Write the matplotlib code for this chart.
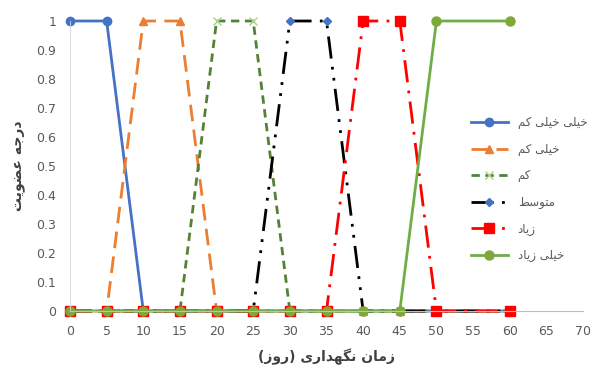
import matplotlib
matplotlib.use("Agg")
import matplotlib.pyplot as plt

# forms: isolated, final, initial, medial (None -> letter does not join to the next one)
FORMS = {
    "ا": ("\uFE8D", "\uFE8E", None, None),
    "ت": ("\uFE95", "\uFE96", "\uFE97", "\uFE98"),
    "ج": ("\uFE9D", "\uFE9E", "\uFE9F", "\uFEA0"),
    "خ": ("\uFEA5", "\uFEA6", "\uFEA7", "\uFEA8"),
    "د": ("\uFEA9", "\uFEAA", None, None),
    "ر": ("\uFEAD", "\uFEAE", None, None),
    "ز": ("\uFEAF", "\uFEB0", None, None),
    "س": ("\uFEB1", "\uFEB2", "\uFEB3", "\uFEB4"),
    "ض": ("\uFEBD", "\uFEBE", "\uFEBF", "\uFEC0"),
    "ط": ("\uFEC1", "\uFEC2", "\uFEC3", "\uFEC4"),
    "ع": ("\uFEC9", "\uFECA", "\uFECB", "\uFECC"),
    "ل": ("\uFEDD", "\uFEDE", "\uFEDF", "\uFEE0"),
    "م": ("\uFEE1", "\uFEE2", "\uFEE3", "\uFEE4"),
    "ن": ("\uFEE5", "\uFEE6", "\uFEE7", "\uFEE8"),
    "ه": ("\uFEE9", "\uFEEA", "\uFEEB", "\uFEEC"),
    "و": ("\uFEED", "\uFEEE", None, None),
    "ی": ("\uFBFC", "\uFBFD", "\uFBFE", "\uFBFF"),
    "ک": ("\uFB8E", "\uFB8F", "\uFB90", "\uFB91"),
    "گ": ("\uFB92", "\uFB93", "\uFB94", "\uFB95"),
}
MIRROR = {"(": ")", ")": "("}


def fa(text):
    # crude persian shaping + reversal, matplotlib has no bidi support
    out = []
    n = len(text)
    for i, ch in enumerate(text):
        if ch not in FORMS:
            out.append(MIRROR.get(ch, ch))
            continue
        prev = text[i - 1] if i > 0 else None
        nxt = text[i + 1] if i < n - 1 else None
        join_prev = prev in FORMS and FORMS[prev][2] is not None
        join_next = nxt in FORMS and FORMS[ch][2] is not None
        iso, fin, ini, med = FORMS[ch]
        if join_prev and join_next:
            out.append(med)
        elif join_prev:
            out.append(fin)
        elif join_next:
            out.append(ini)
        else:
            out.append(iso)
    return "".join(reversed(out))


x = [0, 5, 10, 15, 20, 25, 30, 35, 40, 45, 50, 60]
very_very_low = [1, 1, 0, 0, 0, 0, 0, 0, 0, 0, 0, 0]
very_low = [0, 0, 1, 1, 0, 0, 0, 0, 0, 0, 0, 0]
low = [0, 0, 0, 0, 1, 1, 0, 0, 0, 0, 0, 0]
medium = [0, 0, 0, 0, 0, 0, 1, 1, 0, 0, 0, 0]
high = [0, 0, 0, 0, 0, 0, 0, 0, 1, 1, 0, 0]
very_high = [0, 0, 0, 0, 0, 0, 0, 0, 0, 0, 1, 1]

names = ["خیلی خیلی کم", "خیلی کم", "کم", "متوسط", "زیاد", "خیلی زیاد"]
x_ticks = list(range(0, 75, 5))
y_ticks = [0, 0.1, 0.2, 0.3, 0.4, 0.5, 0.6, 0.7, 0.8, 0.9, 1]
y_tick_labels = ["0", "0.1", "0.2", "0.3", "0.4", "0.5", "0.6", "0.7", "0.8", "0.9", "1"]

plt.rcParams["font.family"] = ["DejaVu Sans"]

fig = plt.figure(figsize=(5.95, 3.76), dpi=100)
ax = fig.add_axes([70 / 595, 1 - 311 / 376, 513 / 595, 290 / 376])

styles = [
    dict(color="#4472C4", ls="-", marker="o", mfc="#4472C4", mec="#4472C4", ms=6),
    dict(color="#ED7D31", ls=(0, (6, 3)), marker="^", mfc="#ED7D31", mec="#ED7D31", ms=6),
    dict(color="#548235", ls=(0, (3, 2)), marker="x", mfc="#A9D18E", mec="#A9D18E", ms=6),
    dict(color="#000000", ls=(0, (8, 3, 1, 3, 1, 3)), marker="D", mfc="#4472C4", mec="#4472C4", ms=4.5),
    dict(color="#FF0000", ls=(0, (8, 3, 1, 3)), marker="s", mfc="#FF0000", mec="#FF0000", ms=6.5),
    dict(color="#70AD47", ls="-", marker="o", mfc="#7FA83A", mec="#7FA83A", ms=6.5),
]
series = [very_very_low, very_low, low, medium, high, very_high]
for ys, name, st in zip(series, names, styles):
    ax.plot(x, ys, lw=2, label=fa(name), clip_on=False, **st)

ax.set_xlim(0, 70)
ax.set_ylim(0, 1)
ax.set_xticks(x_ticks)
ax.set_yticks(y_ticks)
ax.set_yticklabels(y_tick_labels)
ax.tick_params(length=0, labelsize=9, colors="#595959", pad=10)
for s in ["top", "right"]:
    ax.spines[s].set_visible(False)
ax.spines["bottom"].set_color("#BFBFBF")
ax.spines["left"].set_color("#D9D9D9")
ax.spines["left"].set_linewidth(0.6)

ax.set_xlabel(fa("زمان نگهداری (روز)"), fontsize=10, fontweight="bold", color="#404040", labelpad=8)
ax.set_ylabel(fa("درجه عضویت"), fontsize=10, fontweight="bold", color="#404040", labelpad=8)

leg = ax.legend(loc="center left", bbox_to_anchor=(0.76, 0.42), frameon=False,
                fontsize=8.5, handlelength=3.2, labelspacing=1.15, labelcolor="#595959")

fig.savefig("out.png", dpi=100)
